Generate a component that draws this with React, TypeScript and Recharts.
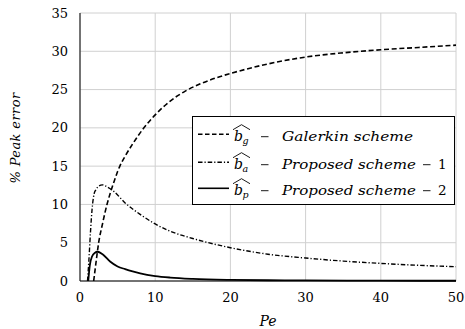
import { LineChart, Line, XAxis, YAxis, CartesianGrid } from "recharts";

// Galerkin scheme (dashed)
const galerkinPe = [1.82, 2.1, 2.48, 3.0, 3.59, 4.0, 4.5, 5.0, 5.3, 6.0, 7.0, 8.5, 10, 12, 14, 16, 18, 20, 25, 30, 35, 40, 45, 50];
const galerkinErr = [0, 2.2, 5.0, 7.5, 10.0, 11.4, 12.9, 14.3, 15.0, 16.3, 17.9, 20.0, 21.7, 23.5, 24.8, 25.75, 26.5, 27.1, 28.35, 29.25, 29.8, 30.2, 30.5, 30.8];

// Proposed scheme - 1 (dash-dot)
const scheme1Pe = [1.0, 1.2, 1.4, 1.6, 1.86, 2.1, 2.5, 2.97, 3.5, 4.5, 6, 7, 8, 10, 12, 15, 20, 25, 30, 35, 40, 45, 50];
const scheme1Err = [0, 3.0, 6.5, 9.3, 11.3, 11.9, 12.4, 12.56, 12.35, 11.7, 10.2, 9.4, 8.7, 7.45, 6.5, 5.55, 4.35, 3.5, 3.0, 2.6, 2.3, 2.05, 1.87];

// Proposed scheme - 2 (solid)
const scheme2Pe = [1.1, 1.3, 1.6, 2.0, 2.3, 3, 4, 5, 6, 7, 8, 10, 12, 15, 20, 25, 30, 40, 50];
const scheme2Err = [0, 2.0, 3.2, 3.7, 3.82, 3.5, 2.55, 1.9, 1.55, 1.25, 1.0, 0.65, 0.45, 0.28, 0.15, 0.1, 0.07, 0.04, 0.03];

const xTicks = [0, 10, 20, 30, 40, 50];
const yTicks = [0, 5, 10, 15, 20, 25, 30, 35];

const toPoints = (pe: number[], err: number[]) => pe.map((x, i) => ({ pe: x, err: err[i] }));

const FONT = "DejaVu Serif";

function Hat({ x, y }: { x: number; y: number }) {
  return <polyline points={`${x},${y} ${x + 8.5},${y - 5} ${x + 17},${y}`} fill="none" stroke="#000" strokeWidth={0.9} />;
}

function Minus({ x, y }: { x: number; y: number }) {
  return <line x1={x} x2={x + 7.5} y1={y} y2={y} stroke="#000" strokeWidth={0.9} />;
}

function LegendRow({ y, dash, sub, label, suffix }: { y: number; dash?: string; sub: string; label: string; suffix?: string }) {
  const base = y + 6.4;
  return (
    <g style={{ fontFamily: FONT }}>
      <line x1={6} x2={37} y1={y} y2={y} stroke="#000" strokeWidth={1.6} strokeDasharray={dash} />
      <text x={42} y={base} fontStyle="italic" fontSize={14}>b</text>
      <text x={50.5} y={base + 3} fontStyle="italic" fontSize={9.5}>{sub}</text>
      <Hat x={41} y={base - 11} />
      <Minus x={69} y={base - 4} />
      <text x={90} y={base} fontStyle="italic" fontSize={13.5} textLength={label === "Galerkin scheme" ? 131 : 134} lengthAdjust="spacingAndGlyphs">
        {label}
      </text>
      {suffix && (
        <>
          <Minus x={231} y={base - 4} />
          <text x={246} y={base} fontSize={13.5}>{suffix}</text>
        </>
      )}
    </g>
  );
}

export default function App() {
  return (
    <div style={{ position: "absolute", left: 0, top: 0, width: 465, height: 329, background: "#fff", fontFamily: FONT }}>
      <LineChart width={465} height={329} margin={{ top: 13, right: 9, bottom: 0, left: 0 }} style={{ fontFamily: FONT }}>
        <CartesianGrid stroke="#d0d0d0" strokeWidth={1} />
        <XAxis
          type="number"
          dataKey="pe"
          domain={[0, 50]}
          ticks={xTicks}
          height={48}
          tickLine={false}
          axisLine={{ stroke: "#000", strokeWidth: 1 }}
          tick={{ fill: "#000", fontSize: 13, style: { fontFamily: FONT } }}
          tickMargin={6}
          label={{ value: "Pe", position: "insideBottom", offset: 3, fill: "#000", fontSize: 14, fontStyle: "italic", style: { fontFamily: FONT } }}
        />
        <YAxis
          type="number"
          domain={[0, 35]}
          ticks={yTicks}
          width={80}
          tickLine={false}
          axisLine={{ stroke: "#000", strokeWidth: 1 }}
          tick={{ fill: "#000", fontSize: 13, style: { fontFamily: FONT } }}
          tickMargin={6}
          label={{
            content: () => (
              <text
                x={20}
                y={138}
                transform="rotate(-90 20 138)"
                textAnchor="middle"
                fontStyle="italic"
                fontSize={13}
                style={{ fontFamily: FONT }}
                fill="#000"
                letterSpacing={0.4}
              >
                % Peak error
              </text>
            ),
          }}
        />
        <Line data={toPoints(galerkinPe, galerkinErr)} dataKey="err" type="monotone" stroke="#000" strokeWidth={1.6} strokeDasharray="5 2.7" dot={false} isAnimationActive={false} />
        <Line data={toPoints(scheme1Pe, scheme1Err)} dataKey="err" type="monotone" stroke="#000" strokeWidth={1.4} strokeDasharray="4.5 2 1.2 2" dot={false} isAnimationActive={false} />
        <Line data={toPoints(scheme2Pe, scheme2Err)} dataKey="err" type="monotone" stroke="#000" strokeWidth={1.8} dot={false} isAnimationActive={false} />
      </LineChart>
      <svg
        width={263}
        height={89}
        style={{ position: "absolute", left: 192, top: 116 }}
      >
        <rect x={0.5} y={0.5} width={262} height={88} fill="#fff" stroke="#000" strokeWidth={1} />
        <LegendRow y={18.3} dash="4.5 2.5" sub="g" label="Galerkin scheme" />
        <LegendRow y={46.3} dash="4.5 2 1.2 2" sub="a" label="Proposed scheme" suffix="1" />
        <LegendRow y={72.3} sub="p" label="Proposed scheme" suffix="2" />
      </svg>
    </div>
  );
}
